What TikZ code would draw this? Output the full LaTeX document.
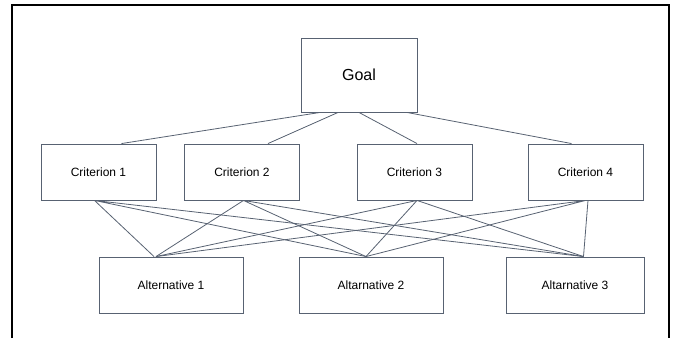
\documentclass[tikz,border=0pt]{standalone}
\usepackage{fontspec}
\setmainfont{Liberation Sans}
\usepackage{xcolor}
\usepackage{tikz}
\definecolor{boxgray}{RGB}{88,98,114}
\tikzset{
  box/.style     = { draw=boxgray, line width=0.9pt, minimum height=56pt, font=\fontsize{12}{14}\selectfont },
  crit/.style    = { box, minimum width=115pt },
  alt/.style     = { box, minimum width=144pt },
  connect/.style = { boxgray, line width=0.8pt },
  frame/.style   = { black, line width=1.3pt }
}

\begin{document}
\begin{tikzpicture}[x=1pt,y=-1pt]
  \useasboundingbox (0,0) rectangle (675,338);
  % Draw frame
  \draw[frame] (12,338) -- (12,5) -- (669,5) -- (669,338);
  % Draw all levels
  \node[box, minimum width=116pt, minimum height=74pt, font=\fontsize{16}{19}\selectfont] (goal) at (359,75) {Goal};
  \node[crit] (c1) at (98.5,172)  {Criterion 1};
  \node[crit] (c2) at (242,172)   {Criterion 2};
  \node[crit] (c3) at (414.5,172) {Criterion 3};
  \node[crit] (c4) at (585.5,172) {Criterion 4};
  \node[alt] (a1) at (171,285) {Alternative 1};
  \node[alt] (a2) at (371,285) {Altarnative 2};
  \node[alt, minimum width=138pt] (a3) at (575,285) {Altarnative 3};
  % Draw goal links
  \draw[connect] ([xshift=-39pt]goal.south) -- ([xshift=23pt]c1.north);
  \draw[connect] ([xshift=-21pt]goal.south) -- ([xshift=26pt]c2.north);
  \draw[connect] (goal.south) -- ([xshift=2.5pt]c3.north);
  \draw[connect] ([xshift=48pt]goal.south) -- ([xshift=-14pt]c4.north);
  % Draw criterion links
  \draw[connect] ([xshift=-4pt]c1.south) -- ([xshift=-17pt]a1.north)  ([xshift=-4pt]c1.south) -- ([xshift=-5pt]a2.north)  ([xshift=-4pt]c1.south) -- ([xshift=8.5pt]a3.north);
  \draw[connect] ([xshift=1.5pt]c2.south) -- ([xshift=-15pt]a1.north)  ([xshift=1.5pt]c2.south) -- ([xshift=-5pt]a2.north)  ([xshift=1.5pt]c2.south) -- ([xshift=8.5pt]a3.north);
  \draw[connect] ([xshift=2.5pt]c3.south) -- ([xshift=-15pt]a1.north)  ([xshift=2.5pt]c3.south) -- ([xshift=-5pt]a2.north)  ([xshift=2.5pt]c3.south) -- ([xshift=8.5pt]a3.north);
  \draw[connect] (c4.south) -- ([xshift=-15pt]a1.north)  (c4.south) -- ([xshift=-5pt]a2.north)  ([xshift=2.5pt]c4.south) -- ([xshift=8.5pt]a3.north);
\end{tikzpicture}
\end{document}
